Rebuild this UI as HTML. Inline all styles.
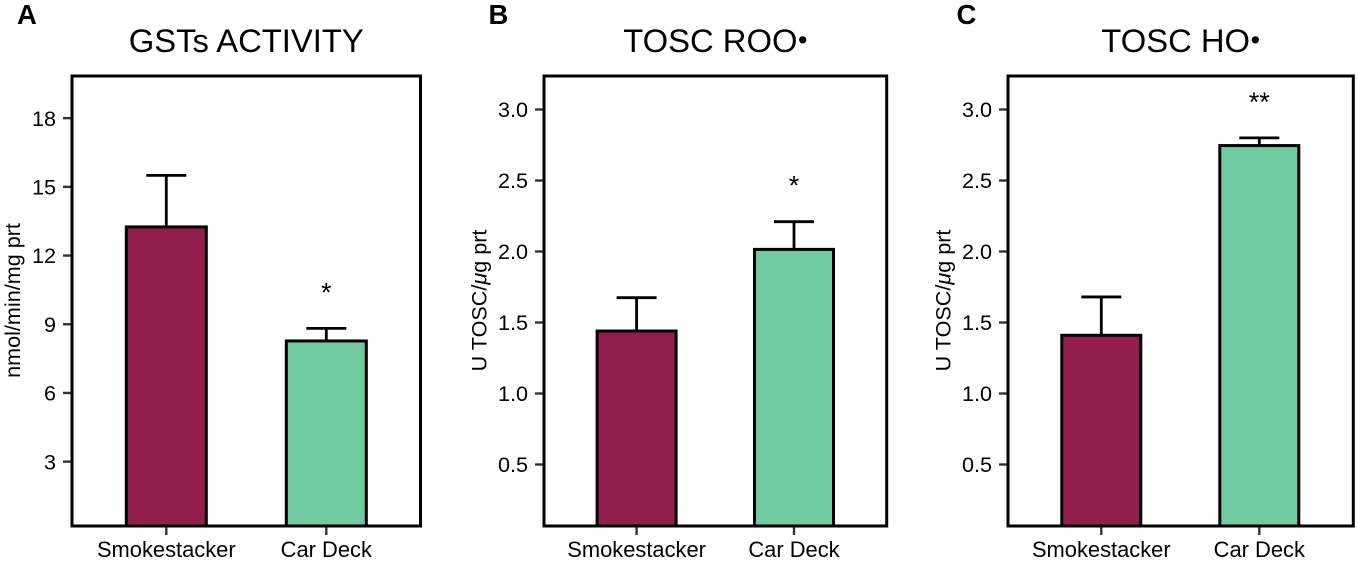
<!DOCTYPE html>
<html lang="en">
<head>
<meta charset="utf-8">
<title>GSTs activity and TOSC bar charts</title>
<style>
  html, body { margin: 0; padding: 0; background: #fff; }
  body { width: 1358px; height: 562px; overflow: hidden; }
  svg { display: block; font-family: "Liberation Sans", Arial, sans-serif; }
</style>
</head>
<body>
<svg id="figure" xmlns="http://www.w3.org/2000/svg" width="1358" height="562" viewBox="0 0 1358 562"></svg>
<script>
// ---- Data ----
const categories = ['Smokestacker', 'Car Deck'];

const gstValues = [13.25, 8.27];
const gstErrors = [2.25, 0.55];
const gstStars = ['', '*'];
const gstTicks = [3, 6, 9, 12, 15, 18];
const gstTickLabels = ['3', '6', '9', '12', '15', '18'];

const rooValues = [1.44, 2.015];
const rooErrors = [0.235, 0.195];
const rooStars = ['', '*'];
const rooTicks = [0.5, 1.0, 1.5, 2.0, 2.5, 3.0];
const rooTickLabels = ['0.5', '1.0', '1.5', '2.0', '2.5', '3.0'];

const hoValues = [1.41, 2.746];
const hoErrors = [0.27, 0.054];
const hoStars = ['', '**'];
const hoTicks = [0.5, 1.0, 1.5, 2.0, 2.5, 3.0];
const hoTickLabels = ['0.5', '1.0', '1.5', '2.0', '2.5', '3.0'];

const barColors = ['#911e4e', '#71cba0'];

// ---- Layout ----
const top_ = 76, bottom_ = 526;
const panels = [
  { key: 'gst', letter: 'A', letterX: 17, title: 'GSTs ACTIVITY', bullet: false, yTitle: ['nmol/min/mg prt'], yTitleX: 20,
    left: 72, right: 420.5, dom: [0.19, 19.84], centers: [166.3, 326.3], barW: 80,
    values: gstValues, errors: gstErrors, stars: gstStars, ticks: gstTicks, tickLabels: gstTickLabels },
  { key: 'roo', letter: 'B', letterX: 488.5, title: 'TOSC ROO', bullet: true, yTitle: ['U TOSC/', '\u03BC', 'g prt'], yTitleX: 486.7,
    left: 544, right: 886.7, dom: [0.067, 3.236], centers: [636.6, 794], barW: 79,
    values: rooValues, errors: rooErrors, stars: rooStars, ticks: rooTicks, tickLabels: rooTickLabels },
  { key: 'ho', letter: 'C', letterX: 956.5, title: 'TOSC HO', bullet: true, yTitle: ['U TOSC/', '\u03BC', 'g prt'], yTitleX: 950.7,
    left: 1008, right: 1353.3, dom: [0.067, 3.236], centers: [1101.3, 1259.3], barW: 79,
    values: hoValues, errors: hoErrors, stars: hoStars, ticks: hoTicks, tickLabels: hoTickLabels }
];

const NS = 'http://www.w3.org/2000/svg';
const svg = document.getElementById('figure');

function make(tag, attrs, parent) {
  const el = document.createElementNS(NS, tag);
  for (const k in attrs) el.setAttribute(k, attrs[k]);
  parent.appendChild(el);
  return el;
}

function yScale(p) {
  return function (v) {
    return bottom_ - (v - p.dom[0]) / (p.dom[1] - p.dom[0]) * (bottom_ - top_);
  };
}

panels.forEach(function (p) {
  const y = yScale(p);
  const g = make('g', {}, svg);
  
  

  const letter = make('text', { x: p.letterX, y: 24, 'font-size': 27.5, 'font-weight': 'bold', fill: '#000' }, g);
  letter.textContent = p.letter;
  
  

  const title = make('text', { x: (p.left + p.right) / 2, y: 52, 'font-size': 32.8, 'text-anchor': 'middle', fill: '#000' }, g);
  
  
  const titleMain = make('tspan', {}, title);
  titleMain.textContent = p.title;
  if (p.bullet) {
    const dot = make('tspan', { 'font-size': 27, dx: 0.5, dy: -3 }, title);
    dot.textContent = '\u2022';
  }

  // y axis title
  const cy = 300.5;
  const yt = make('text', { x: p.yTitleX, y: cy, 'font-size': 21.6, 'text-anchor': 'middle', fill: '#000',
    transform: 'rotate(-90 ' + p.yTitleX + ' ' + cy + ')' }, g);
  p.yTitle.forEach(function (part) {
    const s = make('tspan', part === '\u03BC' ? { 'font-style': 'italic' } : {}, yt);
    s.textContent = part;
  });
  
  

  // y ticks
  p.ticks.forEach(function (t, i) {
    const ty = y(t);
    const tick = make('line', { x1: p.left - 9, x2: p.left, y1: ty, y2: ty, stroke: '#333', 'stroke-width': 2.4 }, g);
    
    
    const lab = make('text', { x: p.left - 16, y: ty + 7.7, 'font-size': 21.6, 'text-anchor': 'end', fill: '#000' }, g);
    lab.textContent = p.tickLabels[i];
    
    
  });

  // bars, error bars, significance marks
  categories.forEach(function (c, i) {
    const cx = p.centers[i];
    const vy = y(p.values[i]);
    const ey = y(p.values[i] + p.errors[i]);

    const stem = make('line', { x1: cx, x2: cx, y1: vy, y2: ey, stroke: '#000', 'stroke-width': 2.8 }, g);
    
    
    const cap = make('line', { x1: cx - 20, x2: cx + 20, y1: ey, y2: ey, stroke: '#000', 'stroke-width': 2.8 }, g);
    
    

    const bar = make('rect', { x: cx - p.barW / 2, y: vy, width: p.barW, height: bottom_ - vy,
      fill: barColors[i], stroke: '#000', 'stroke-width': 3 }, g);
    
    

    const xt = make('line', { x1: cx, x2: cx, y1: bottom_, y2: bottom_ + 9, stroke: '#333', 'stroke-width': 2.4 }, g);
    
    

    const xl = make('text', { x: cx, y: 557, 'font-size': 21.9, 'text-anchor': 'middle', fill: '#000' }, g);
    xl.textContent = c;
    
    

    if (p.stars[i]) {
      const st = make('text', { x: cx, y: ey - 27, 'font-size': 27, 'text-anchor': 'middle', fill: '#000' }, g);
      st.textContent = p.stars[i];
      
      
    }
  });

  // plot frame
  const frame = make('rect', { x: p.left, y: top_, width: p.right - p.left, height: bottom_ - top_,
    fill: 'none', stroke: '#000', 'stroke-width': 3 }, g);
  
  
});
</script>
</body>
</html>
